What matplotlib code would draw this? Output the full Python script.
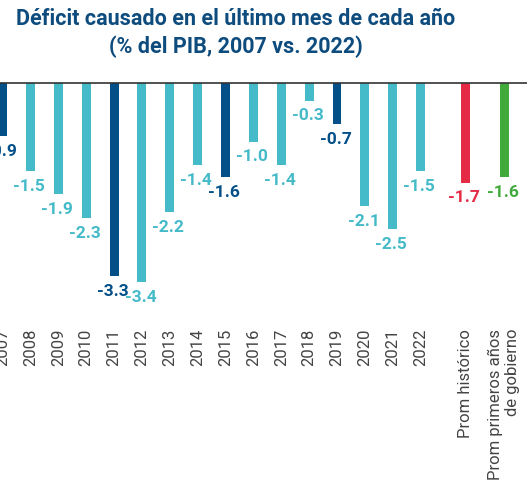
import numpy as np
import matplotlib.pyplot as plt

plt.rcParams['font.family'] = ['Roboto', 'DejaVu Sans']

# Datos
categorias = ["2007", "2008", "2009", "2010", "2011", "2012", "2013", "2014",
              "2015", "2016", "2017", "2018", "2019", "2020", "2021", "2022",
              "Prom histórico", "Prom primeros años\nde gobierno"]
valores = [-0.9, -1.5, -1.9, -2.3, -3.3, -3.4, -2.2, -1.4,
           -1.6, -1.0, -1.4, -0.3, -0.7, -2.1, -2.5, -1.5,
           -1.7, -1.6]
posiciones = list(range(16)) + [16.6, 18.0]

azul = "#034F88"
turquesa = "#45BAC8"
rojo = "#E42A45"
verde = "#40AB3A"
colores = [azul, turquesa, turquesa, turquesa, azul, turquesa, turquesa, turquesa,
           azul, turquesa, turquesa, turquesa, azul, turquesa, turquesa, turquesa,
           rojo, verde]

fig = plt.figure(figsize=(5.27, 4.84), dpi=100)
ax = fig.add_axes([0, 1 - 322/484, 1, (322 - 83)/484])

ax.bar(posiciones, valores, width=0.32, color=colores, zorder=2)
ax.axhline(0, color="#333333", lw=1.2, zorder=3, clip_on=False)

for x, v, c in zip(posiciones, valores, colores):
    peso = "bold" if c != turquesa else "semibold"
    ax.annotate(f"{v:.1f}", (x, v), xytext=(-1, -11), textcoords="offset points",
                ha="center", va="center", color=c, fontsize=12.5, fontweight=peso)

ax.set_xlim(-0.095, 18.82)
ax.set_ylim(-(322 - 83)/58.6, 0)
ax.set_xticks(posiciones)
ax.set_xticklabels(categorias, rotation=90, fontsize=12, color="#444444",
                   multialignment="right", va="top", ha="center")
ax.tick_params(axis="x", length=0, pad=5)
ax.set_yticks([])
for s in ax.spines.values():
    s.set_visible(False)

fig.text(236/527, 1 - 19/484, "Déficit causado en el último mes de cada año",
         ha="center", va="center", fontsize=15.5, fontweight="bold", color="#0E4C7E")
fig.text(236/527, 1 - 47/484, "(% del PIB, 2007 vs. 2022)",
         ha="center", va="center", fontsize=15.5, fontweight="bold", color="#0E4C7E")

fig.savefig("out.png", dpi=100)
